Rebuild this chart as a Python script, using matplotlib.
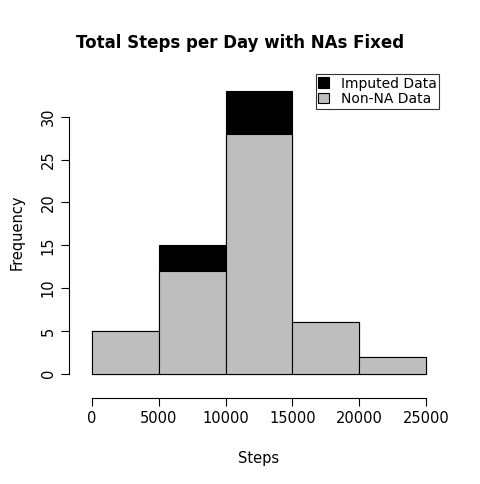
import matplotlib.pyplot as plt

bin_edges = [0, 5000, 10000, 15000, 20000, 25000]
imputed_counts = [5, 15, 33, 6, 2]
non_na_counts = [5, 12, 28, 6, 2]

fig = plt.figure(figsize=(4.8, 4.84), dpi=100)
ax = fig.add_axes([0.164, 0.2045, 0.751, 0.6305])

lefts = bin_edges[:-1]
widths = [b - a for a, b in zip(bin_edges[:-1], bin_edges[1:])]
ax.bar(lefts, imputed_counts, width=widths, align='edge', color='black',
       edgecolor='black', linewidth=0.8, label='Imputed Data')
ax.bar(lefts, non_na_counts, width=widths, align='edge', color='#bebebe',
       edgecolor='black', linewidth=0.8, label='Non-NA Data')

ax.set_xlim(-1000, 26000)
ax.set_ylim(-1.32, 34.32)
ax.set_xticks(bin_edges)
ax.set_yticks([0, 5, 10, 15, 20, 25, 30])

for s in ['top', 'right']:
    ax.spines[s].set_visible(False)
ax.spines['bottom'].set_bounds(0, 25000)
ax.spines['left'].set_bounds(0, 30)
ax.spines['bottom'].set_position(('outward', 9))
ax.spines['left'].set_position(('outward', 7))
ax.tick_params(labelsize=10.5, length=6)
ax.tick_params(axis='y', labelrotation=90)
for lbl in ax.get_yticklabels():
    lbl.set_va('center')

ax.set_xlabel('Steps', fontsize=10.5, labelpad=18)
ax.set_ylabel('Frequency', fontsize=10.5, labelpad=12)
fig.suptitle('Total Steps per Day with NAs Fixed', fontsize=12,
             fontweight='bold', y=0.93)

leg = ax.legend(loc='upper right', bbox_to_anchor=(1.0, 1.02), fontsize=10,
                frameon=True, fancybox=False, edgecolor='black',
                handlelength=0.8, handleheight=0.8, borderpad=0.2,
                labelspacing=0.1, borderaxespad=0)
leg.get_frame().set_linewidth(0.8)

fig.savefig('out.png')
